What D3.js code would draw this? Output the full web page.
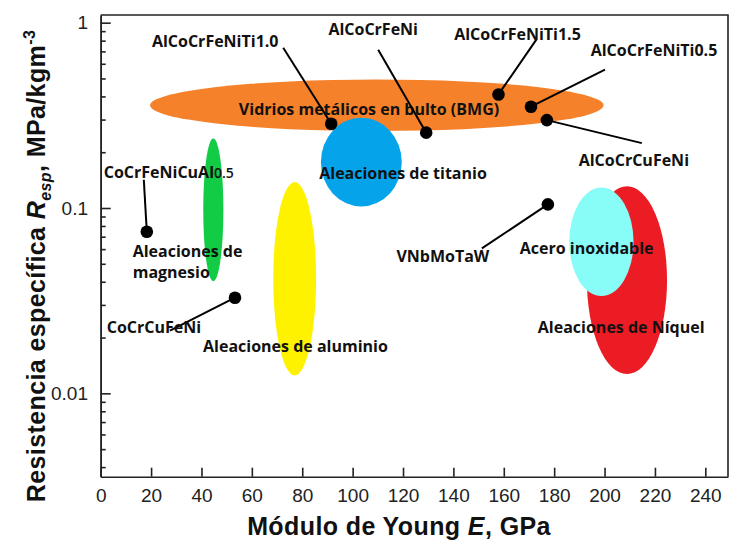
<!DOCTYPE html>
<html>
<head>
<meta charset="utf-8">
<script src="https://cdn.jsdelivr.net/npm/d3@7"></script>
<style>
  body { margin: 0; background: #fff; }
  .tick text { font-family: "Liberation Sans", Arial, sans-serif; font-size: 19px; fill: #222; }
  .axis path, .axis line { stroke: #222; stroke-width: 1.6px; }
  .note { font-family: "Open Sans", sans-serif; font-weight: 700; font-size: 16px; fill: #111; }
  .title { font-family: "Liberation Sans", Arial, sans-serif; font-weight: 700; font-size: 25px; letter-spacing: 0.4px; fill: #111; }
</style>
</head>
<body>
<div id="chart"></div>
<script>
// x axis: Young's modulus (GPa), y axis: specific strength (MPa/kgm-3, log)
var xTicks = [0, 20, 40, 60, 80, 100, 120, 140, 160, 180, 200, 220, 240];
var yTicks = [0.01, 0.1, 1];
var yMinor = [0.004, 0.005, 0.006, 0.007, 0.008, 0.009,
              0.02, 0.03, 0.04, 0.05, 0.06, 0.07, 0.08, 0.09,
              0.2, 0.3, 0.4, 0.5, 0.6, 0.7, 0.8, 0.9];

// material families drawn as ellipses (extent in E and R)
var regionNames = ["Vidrios metálicos en bulto (BMG)", "Aleaciones de titanio", "Aleaciones de|magnesio",
                   "Aleaciones de aluminio", "Aleaciones de Níquel", "Acero inoxidable"];
var regionEmin = [19.6, 87.4, 40.7, 68.5, 193, 186];
var regionEmax = [199.6, 119.5, 48.7, 85.5, 224.8, 211.5];
var regionRmin = [0.26, 0.102, 0.0403, 0.0125, 0.0127, 0.0335];
var regionRmax = [0.494, 0.307, 0.237, 0.138, 0.131, 0.129];
var regionColors = ["#f5812a", "#04a3ea", "#12cc45", "#fff200", "#ec1c24", "#88fcf7"];
// where each family label sits (E, R) and its anchor
var regionLabelE = [106.5, 120, 12.7, 77.3, 206.6, 192.9];
var regionLabelR = [0.340, 0.1537, 0.0581, 0.0180, 0.0226, 0.0603];
var regionLabelAnchor = ["middle", "middle", "start", "middle", "middle", "middle"];

// high entropy alloys
var alloyNames = ["AlCoCrFeNiTi1.0", "AlCoCrFeNi", "AlCoCrFeNiTi1.5", "AlCoCrFeNiTi0.5",
                  "AlCoCrCuFeNi", "CoCrFeNiCuAl0.5", "CoCrCuFeNi", "VNbMoTaW"];
var alloyE = [91.5, 129.2, 157.9, 170.8, 177.1, 18.3, 53.3, 177.5];
var alloyR = [0.285, 0.255, 0.410, 0.352, 0.298, 0.0745, 0.0328, 0.1046];
// label centre and leader end, offset from the dot in px
var labelDx = [-116, -53, 19, 123, 87, 22, -81, -105];
var labelDy = [-82, -103, -60, -56, 40, -59, 30, 52];
var leadDx = [-48, -48, 38, 74, 95, -3, -65, -66];
var leadDy = [-76, -83, -55, -37, 23, -52, 33, 44];

var W = 729, H = 541;
var plotL = 100.7, plotT = 15, plotB = 476.7, plotR = 728;

var svg = d3.select("#chart").append("svg")
    .attr("width", W)
    .attr("height", H);

var x = d3.scaleLinear().domain([0, 249]).range([plotL, plotR]);
var y = d3.scaleLog().domain([0.00355, 1.1]).range([plotB, plotT]);

// frame (top and right)
svg.append("path")
    .attr("d", "M" + plotL + "," + plotT + "H" + plotR + "V" + plotB)
    .attr("fill", "none")
    .attr("stroke", "#222")
    .attr("stroke-width", 1.6);

// ellipses
regionNames.forEach(function(n, i) {
    var x0 = x(regionEmin[i]), x1 = x(regionEmax[i]);
    var y0 = y(regionRmin[i]), y1 = y(regionRmax[i]);
    svg.append("ellipse")
        .attr("cx", (x0 + x1) / 2)
        .attr("cy", (y0 + y1) / 2)
        .attr("rx", (x1 - x0) / 2)
        .attr("ry", Math.abs(y0 - y1) / 2)
        .attr("fill", regionColors[i]);
});

// axes
svg.append("g")
    .attr("class", "x axis")
    .attr("transform", "translate(0," + plotB + ")")
    .call(d3.axisBottom(x).tickValues(xTicks).tickSizeInner(-9).tickSizeOuter(0).tickPadding(12));

svg.append("g")
    .attr("class", "y axis")
    .attr("transform", "translate(" + plotL + ",0)")
    .call(d3.axisLeft(y).tickValues(yMinor).tickSizeInner(-5).tickSizeOuter(0).tickFormat(""));

svg.append("g")
    .attr("class", "y axis")
    .attr("transform", "translate(" + plotL + ",0)")
    .call(d3.axisLeft(y).tickValues(yTicks).tickSizeInner(-10).tickSizeOuter(0).tickPadding(12.7)
        .tickFormat(function(d) { return String(d); }));

// family labels
regionNames.forEach(function(n, i) {
    var t = svg.append("text")
        .attr("class", "note")
        .attr("x", x(regionLabelE[i]))
        .attr("y", y(regionLabelR[i]))
        .attr("text-anchor", regionLabelAnchor[i]);
    n.split("|").forEach(function(part, k) {
        t.append("tspan")
            .attr("x", x(regionLabelE[i]))
            .attr("dy", k === 0 ? "0.35em" : "1.3em")
            .text(part);
    });
});

// alloys: leader, dot, label
alloyNames.forEach(function(n, i) {
    var px = x(alloyE[i]), py = y(alloyR[i]);
    svg.append("line")
        .attr("x1", px).attr("y1", py)
        .attr("x2", px + leadDx[i]).attr("y2", py + leadDy[i])
        .attr("stroke", "#000")
        .attr("stroke-width", 2);
    svg.append("circle")
        .attr("cx", px).attr("cy", py)
        .attr("r", 6.3)
        .attr("fill", "#000");
    var t = svg.append("text")
        .attr("class", "note")
        .attr("x", px + labelDx[i])
        .attr("y", py + labelDy[i])
        .attr("dy", "0.35em")
        .attr("text-anchor", "middle");
    var m = n.match(/^(CoCrFeNiCuAl)(0\.5)$/);
    if (m) {
        t.append("tspan").text(m[1]);
        t.append("tspan").style("font-size", "14px").style("font-weight", 600).text(m[2]);
    } else {
        t.text(n);
    }
});

// axis titles
var xt = svg.append("text")
    .attr("class", "title")
    .attr("x", 399)
    .attr("y", 535)
    .attr("text-anchor", "middle");
xt.append("tspan").text("Módulo de Young ");
xt.append("tspan").style("font-style", "italic").text("E");
xt.append("tspan").text(", GPa");

var yt = svg.append("text")
    .attr("class", "title")
    .attr("transform", "translate(45,266) rotate(-90)")
    .attr("text-anchor", "middle");
yt.append("tspan").text("Resistencia específica ");
yt.append("tspan").style("font-style", "italic").text("R");
yt.append("tspan").style("font-style", "italic").style("font-size", "16px").attr("dy", 6).text("esp");
yt.append("tspan").attr("dy", -6).text(", MPa/kgm");
yt.append("tspan").style("font-size", "16px").attr("dy", -10).text("-3");
</script>
</body>
</html>
